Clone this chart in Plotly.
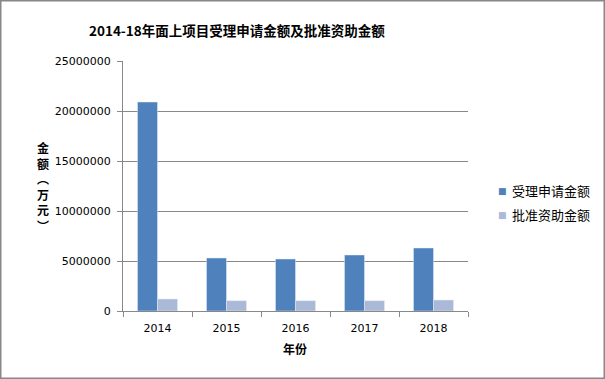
import plotly.graph_objects as go

years = ["2014", "2015", "2016", "2017", "2018"]
applied = [20900000, 5300000, 5200000, 5600000, 6300000]
approved = [1200000, 1030000, 1030000, 1030000, 1100000]
y_ticks = [0, 5000000, 10000000, 15000000, 20000000, 25000000]
names = ["受理申请金额", "批准资助金额"]
colors = ["#4F81BD", "#AAB9D7"]

W, H = 605, 379
L, R, T, B = 123, 137, 61, 68
pw = W - L - R
ph = H - T - B

def px(x):
    return (x - L) / pw

def py(y):
    return (H - B - y) / ph

cjk = "Noto Sans CJK SC"
fig = go.Figure()
fig.add_trace(go.Bar(x=years, y=applied, name=names[0], marker_color=colors[0], showlegend=False))
fig.add_trace(go.Bar(x=years, y=approved, name=names[1], marker_color=colors[1], showlegend=False))

fig.update_layout(
    width=W, height=H,
    margin=dict(l=L, r=R, t=T, b=B, autoexpand=False),
    paper_bgcolor="white", plot_bgcolor="white",
    barmode="group", bargap=0.42, bargroupgap=0,
    font=dict(family="DejaVu Sans, " + cjk, size=11, color="black"),
    showlegend=False,
    xaxis=dict(showline=True, linecolor="#888888", linewidth=1,
               ticks="outside", ticklen=5, tickcolor="#888888",
               tickson="boundaries", showgrid=False,
               ticklabelstandoff=7,
               tickfont=dict(family="DejaVu Sans", size=11)),
    yaxis=dict(range=[0, 25000000], tickvals=y_ticks,
               ticktext=[str(v) for v in y_ticks],
               showline=True, linecolor="#888888", linewidth=1,
               ticks="outside", ticklen=5, tickcolor="#888888",
               showgrid=True, gridcolor="#888888", gridwidth=1,
               zeroline=False, ticklabelstandoff=4,
               tickfont=dict(family="DejaVu Sans", size=11)),
)

# legend (manual)
for i, (n, c) in enumerate(zip(names, colors)):
    yy = 190 + 24 * i
    fig.add_annotation(text="■", xref="paper", yref="paper", x=px(502), y=py(yy + 1),
                       showarrow=False, font=dict(family="DejaVu Sans", size=9, color=c),
                       xanchor="center", yanchor="middle")
    fig.add_annotation(text=n, xref="paper", yref="paper", x=px(510), y=py(yy),
                       showarrow=False, font=dict(family=cjk, size=13),
                       xanchor="left", yanchor="middle")

fig.add_annotation(text="<b>2014-18年面上项目受理申请金额及批准资助金额</b>",
                   xref="paper", yref="paper", x=px(237), y=py(30),
                   showarrow=False, font=dict(family=cjk, size=13.5),
                   xanchor="center", yanchor="middle")
fig.add_annotation(text="<b>年份</b>", xref="paper", yref="paper",
                   x=px(295), y=py(348), showarrow=False,
                   font=dict(family=cjk, size=12), xanchor="center", yanchor="middle")
fig.add_annotation(text="<b>金<br>额<br>︵<br>万<br>元<br>︶</b>", xref="paper", yref="paper",
                   x=px(43), y=py(186), showarrow=False,
                   font=dict(family=cjk, size=12), xanchor="center", yanchor="middle")

fig.add_shape(type="rect", xref="paper", yref="paper",
              x0=px(0.75), x1=px(W - 0.75), y0=py(H - 0.75), y1=py(0.75),
              line=dict(color="#888888", width=1.5), layer="above")

fig.write_html("out.html")
